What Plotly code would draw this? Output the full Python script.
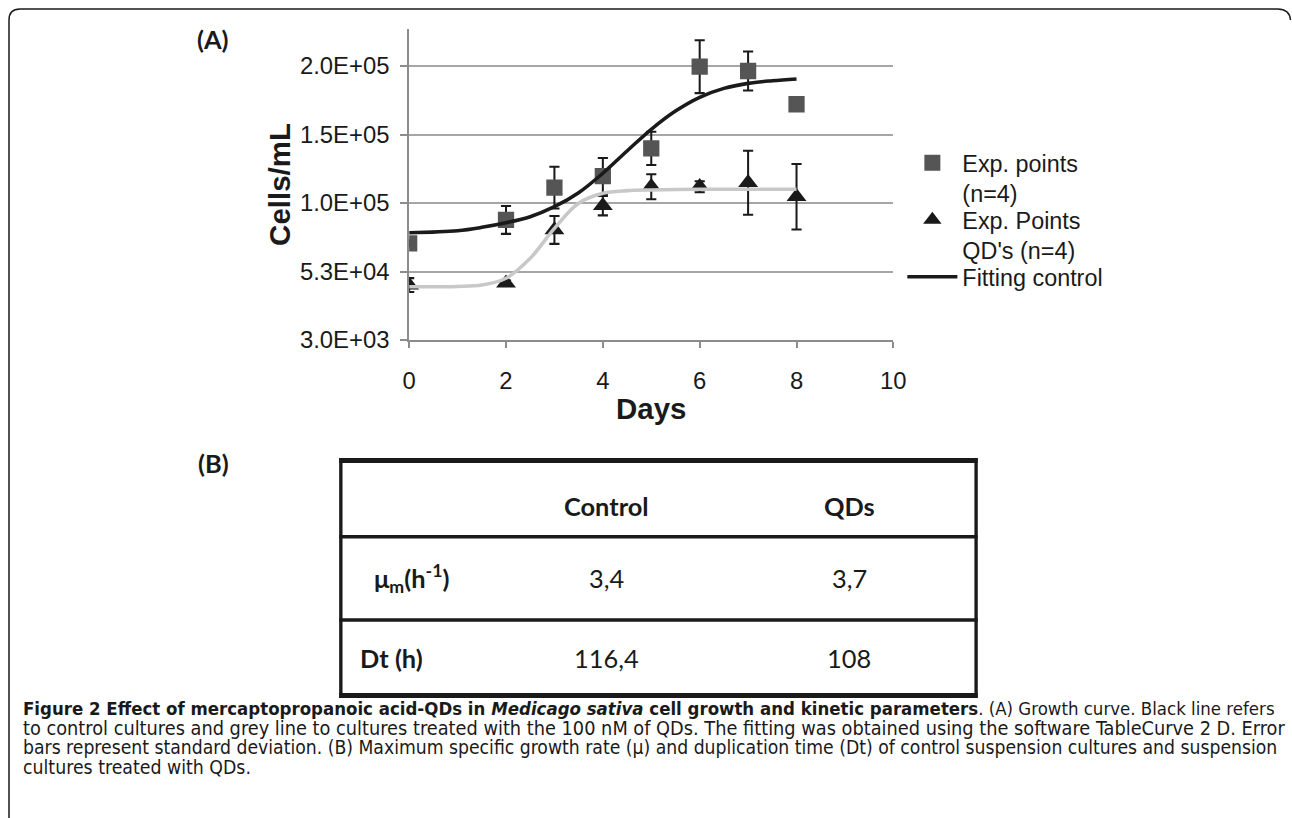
import plotly.graph_objects as go

# Reference picture size (all design coordinates below are in these pixels)
RW, RH = 1292, 818
# The page is photographed about 831 px tall, so the figure is built at that
# height (and the matching width) to map 1:1 onto the reference frame.
K = 831 / 818
FW, FH = 1312, 831
X_SHIFT = 8  # horizontal offset observed in the photographed page

# ---------------- data ----------------
days = [0, 2, 3, 4, 5, 6, 7, 8]
control = [72500, 89300, 112500, 120900, 140800, 199500, 196400, 172500]
control_sd = [2000, 10000, 15000, 13000, 12000, 19000, 14000, 2000]
qds = [42500, 43800, 82100, 99600, 113200, 113200, 116100, 106000]
qds_sd = [5000, 2000, 10000, 7000, 9000, 4000, 23000, 23500]

fit_days = [0, 1, 1.5, 2, 2.5, 3, 3.5, 4, 4.5, 5, 5.5, 6, 6.5, 7, 7.5, 8]
fit_control = [80100, 81600, 84000, 87300, 91650, 98840, 108900, 122900,
               138900, 154500, 167600, 177500, 183900, 187500, 189400, 190700]
fit_qds = [41300, 41500, 42500, 47400, 61700, 83300, 101300, 108500,
           110400, 110900, 111200, 111350, 111350, 111350, 111350, 111350]

y_tickvals = [3000, 52250, 101500, 150750, 200000]
y_ticktext = ["3.0E+03", "5.3E+04", "1.0E+05", "1.5E+05", "2.0E+05"]
x_tickvals = [0, 2, 4, 6, 8, 10]

table_cols = ["Control", "QDs"]
table_rows = ["<b>μ<sub>m</sub>(h<sup>-1</sup>)</b>", "<b>Dt (h)</b>"]
table_vals = [["3,4", "3,7"], ["116,4", "108"]]

caption_lines = [
    "<b>Figure 2 Effect of mercaptopropanoic acid-QDs in <i>Medicago sativa</i> cell growth and kinetic parameters</b>. (A) Growth curve. Black line refers",
    "to control cultures and grey line to cultures treated with the 100 nM of QDs. The fitting was obtained using the software TableCurve 2 D. Error",
    "bars represent standard deviation. (B) Maximum specific growth rate (µ) and duplication time (Dt) of control suspension cultures and suspension",
    "cultures treated with QDs.",
]
caption_sizes = [18.2, 19.45, 18.9, 19]

# ---------------- helpers: reference pixel -> paper ----------------
def px(x):
    return (x - X_SHIFT) * K / FW

def py(y):
    return 1 - y * K / FH

def sz(v):
    return v * K

ARIAL = "Liberation Sans, Arial, sans-serif"
CALIBRI = "Lato, Carlito, Calibri, sans-serif"
CAPTION = "Liberation Sans Narrow, DejaVu Sans Condensed, sans-serif"
INK = "#1a1a1a"

fig = go.Figure()

fig.add_trace(go.Scatter(
    x=days, y=control, mode="markers", name="Exp. points<br>(n=4)",
    legend="legend",
    marker=dict(symbol="square", size=sz(16), color="#555555"),
    error_y=dict(type="data", array=control_sd, visible=True,
                 color=INK, thickness=sz(2), width=sz(5)),
))
fig.add_trace(go.Scatter(
    x=days, y=qds, mode="markers", name="Exp. Points<br>QD's (n=4)",
    legend="legend2",
    marker=dict(symbol="triangle-up", size=sz(17), color=INK),
    error_y=dict(type="data", array=qds_sd, visible=True,
                 color=INK, thickness=sz(2), width=sz(5)),
))
fig.add_trace(go.Scatter(
    x=fit_days, y=fit_control, mode="lines", name="Fitting control",
    legend="legend3",
    line=dict(color=INK, width=sz(3.5), shape="spline", smoothing=1.0),
))
fig.add_trace(go.Scatter(
    x=fit_days, y=fit_qds, mode="lines", name="Fitting QDs", showlegend=False,
    line=dict(color="#c8c8c8", width=sz(3.5), shape="spline", smoothing=1.0),
))

def legend_box(top):
    return dict(
        x=px(903), y=py(top), xanchor="left", yanchor="top",
        font=dict(family=ARIAL, size=sz(23), color=INK),
        itemwidth=50, valign="top", bgcolor="rgba(0,0,0,0)",
    )

fig.update_layout(
    width=FW, height=FH,
    margin=dict(l=0, r=0, t=0, b=0),
    paper_bgcolor="white", plot_bgcolor="white",
    font=dict(family=ARIAL, color=INK),
    xaxis=dict(
        domain=[px(410), px(894)], range=[0, 10],
        tickvals=x_tickvals, ticks="outside", ticklen=sz(6), tickwidth=1.5,
        tickcolor="#8c8c8c", showline=True, linecolor="#8c8c8c", linewidth=1.5,
        showgrid=False, zeroline=False,
        tickfont=dict(family=ARIAL, size=sz(23.5), color=INK),
        ticklabelstandoff=13,
        title=dict(text="<b>Days</b>", font=dict(family=ARIAL, size=sz(29), color=INK),
                   standoff=5),
    ),
    yaxis=dict(
        domain=[py(340), py(29)], range=[3000, 226600],
        tickvals=y_tickvals, ticktext=y_ticktext,
        ticks="outside", ticklen=sz(7), tickwidth=1.5, tickcolor="#8c8c8c",
        showline=True, linecolor="#8c8c8c", linewidth=1.5,
        showgrid=True, gridcolor="#a6a6a6", gridwidth=1.5, zeroline=False,
        tickfont=dict(family=ARIAL, size=sz(23.5), color=INK),
        ticklabelstandoff=6,
        title=dict(text="<b>Cells/mL</b>", font=dict(family=ARIAL, size=sz(29), color=INK),
                   standoff=1),
    ),
    legend=legend_box(141),
    legend2=legend_box(198),
    legend3=legend_box(255),
    showlegend=True,
)

shapes = []
# outer frame with rounded corners
r = 11
frame = (f"M {px(10)},{py(RH + 20)} L {px(10)},{py(9 + r)} "
         f"Q {px(10)},{py(9)} {px(10 + r)},{py(9)} "
         f"L {px(1289 - r)},{py(9)} Q {px(1290)},{py(9)} {px(1291)},{py(9 + r)}")
shapes.append(dict(type="path", xref="paper", yref="paper", path=frame,
                   line=dict(color=INK, width=1.5)))

# table lines
tl, tr = 341.7, 976.7
for yy, lw in [(460.5, 5), (536.7, 3.3), (620, 3.3), (695.5, 5)]:
    shapes.append(dict(type="line", xref="paper", yref="paper",
                       x0=px(tl - 1.6), x1=px(tr + 1.6), y0=py(yy), y1=py(yy),
                       line=dict(color=INK, width=sz(lw))))
for xx in (tl, tr):
    shapes.append(dict(type="line", xref="paper", yref="paper",
                       x0=px(xx), x1=px(xx), y0=py(458), y1=py(698),
                       line=dict(color=INK, width=sz(3.3))))

annotations = []
def ann(text, x, y, size, family, xanchor="center", yanchor="middle"):
    annotations.append(dict(text=text, x=px(x), y=py(y), xref="paper", yref="paper",
                            showarrow=False, xanchor=xanchor, yanchor=yanchor,
                            font=dict(family=family, size=sz(size), color=INK)))

ann("<b>(A)</b>", 214, 39, 25, CALIBRI)
ann("<b>(B)</b>", 214, 463, 25, CALIBRI)

col_x = [607, 850]
for cx, c in zip(col_x, table_cols):
    ann(f"<b>{c}</b>", cx, 506, 25, CALIBRI)
row_y = [578, 658]
row_x = [412, 392]
for rx, ry, rlab, vals in zip(row_x, row_y, table_rows, table_vals):
    ann(rlab, rx, ry, 25, CALIBRI)
    for cx, v in zip(col_x, vals):
        ann(v, cx, ry, 25, CALIBRI)

cap_y = [708, 728, 747.5, 767]
for cy, line, s in zip(cap_y, caption_lines, caption_sizes):
    ann(line, 22, cy, s, CAPTION, xanchor="left")

fig.update_layout(shapes=shapes, annotations=annotations)

page_js = (
    "var s=document.createElement('style');"
    "s.innerHTML='html,body{margin:0;padding:0;}';"
    "document.head.appendChild(s);"
)

fig.write_html(
    "out.html",
    config={"displayModeBar": False},
    post_script=page_js,
)
